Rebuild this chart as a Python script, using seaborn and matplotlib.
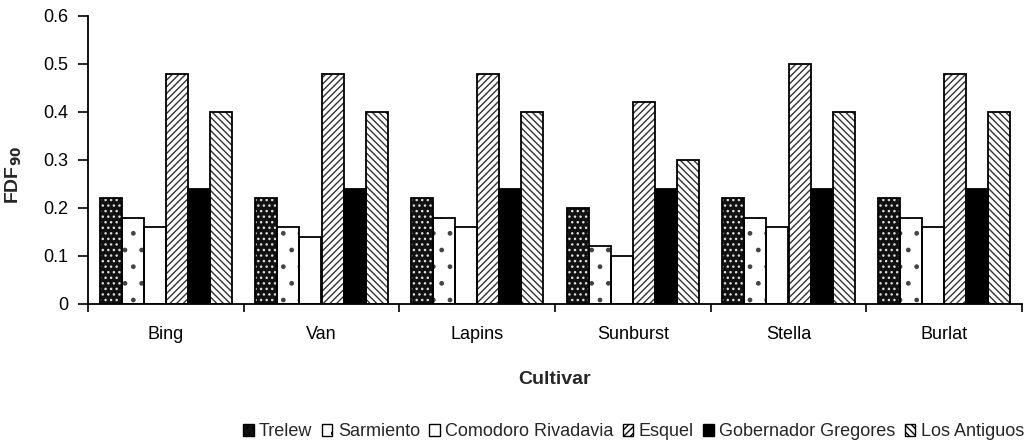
import matplotlib
matplotlib.use("Agg")
import matplotlib.pyplot as plt
import seaborn as sns
import pandas as pd
from matplotlib.patches import Rectangle, Patch

cultivars = ["Bing", "Van", "Lapins", "Sunburst", "Stella", "Burlat"]
sites = ["Trelew", "Sarmiento", "Comodoro Rivadavia", "Esquel",
         "Gobernador Gregores", "Los Antiguos"]
trelew = [0.22, 0.22, 0.22, 0.20, 0.22, 0.22]
sarmiento = [0.18, 0.16, 0.18, 0.12, 0.18, 0.18]
comodoro = [0.16, 0.14, 0.16, 0.10, 0.16, 0.16]
esquel = [0.48, 0.48, 0.48, 0.42, 0.50, 0.48]
gobernador = [0.24, 0.24, 0.24, 0.24, 0.24, 0.24]
antiguos = [0.40, 0.40, 0.40, 0.30, 0.40, 0.40]
series = [trelew, sarmiento, comodoro, esquel, gobernador, antiguos]
yticks = [0, 0.1, 0.2, 0.3, 0.4, 0.5, 0.6]
ytick_labels = ["0", "0.1", "0.2", "0.3", "0.4", "0.5", "0.6"]

rows = []
for s, vals in zip(sites, series):
    for c, v in zip(cultivars, vals):
        rows.append({"Cultivar": c, "Site": s, "FDF": v})
df = pd.DataFrame(rows)

sns.set_theme(style="white")
plt.rcParams['font.family'] = ['Liberation Sans', 'DejaVu Sans']
plt.rcParams['hatch.linewidth'] = 1.0

FS = 13
fig = plt.figure(figsize=(10.28, 4.43), dpi=100)
ax = fig.add_axes([88/1028, 1-304/443, 934/1028, 288/443])

sns.barplot(data=df, x="Cultivar", y="FDF", hue="Site", order=cultivars,
            hue_order=sites, width=0.85, ax=ax, legend=False, errorbar=None)

styles = [
    dict(fc="#111111", hatch_ec="#dddddd", hatch="..."),
    dict(fc="white", hatch_ec="#444444", hatch="."),
    dict(fc="white", hatch_ec="black", hatch=""),
    dict(fc="white", hatch_ec="#333333", hatch="/////"),
    dict(fc="black", hatch_ec="black", hatch=""),
    dict(fc="white", hatch_ec="#333333", hatch="\\\\\\\\\\"),
]

for cont, st in zip(ax.containers, styles):
    for p in cont:
        p.set_facecolor(st["fc"])
        p.set_edgecolor(st["hatch_ec"])
        p.set_hatch(st["hatch"])
        p.set_linewidth(0)
        r = Rectangle(p.get_xy(), p.get_width(), p.get_height(),
                      fill=False, edgecolor="black", linewidth=1.3,
                      zorder=p.get_zorder() + 0.1)
        ax.add_patch(r)

ax.set_ylim(0, 0.6)
ax.set_xlim(-0.5, len(cultivars) - 0.5)
ax.set_yticks(yticks)
ax.set_yticklabels(ytick_labels)
ax.set_xticks(range(len(cultivars)))
ax.set_xticklabels(cultivars)
ax.set_xticks([i - 0.5 for i in range(len(cultivars) + 1)], minor=True)
ax.tick_params(axis="x", which="major", length=0, pad=16, labelsize=FS, colors="black")
ax.tick_params(axis="x", which="minor", length=6, width=1.2, direction="out", color="black", bottom=True)
ax.tick_params(axis="y", length=7, width=1.2, direction="out", labelsize=FS, left=True,
               colors="black", pad=7)

for sp in ["top", "right"]:
    ax.spines[sp].set_visible(False)
for sp in ["left", "bottom"]:
    ax.spines[sp].set_color("black")
    ax.spines[sp].set_linewidth(1.3)

ax.set_xlabel("Cultivar", fontsize=FS + 1, fontweight="bold", labelpad=20)
ax.set_ylabel(r"FDF$_{\mathbf{90}}$", fontsize=FS + 1, fontweight="bold")
ax.yaxis.set_label_coords(-0.068, 0.45)

handles = []
for s, st in zip(sites, styles):
    handles.append(Patch(facecolor=st["fc"], edgecolor="black",
                         hatch=st["hatch"], linewidth=1.0, label=s))
fig.legend(handles=handles, loc="center right", bbox_to_anchor=(1024/1028, 1-432/443),
           ncol=6, frameon=False, fontsize=FS, handlelength=0.6, handleheight=0.6,
           handletextpad=0.3, columnspacing=0.5, borderpad=0, borderaxespad=0)

fig.savefig("out.png", dpi=100)
